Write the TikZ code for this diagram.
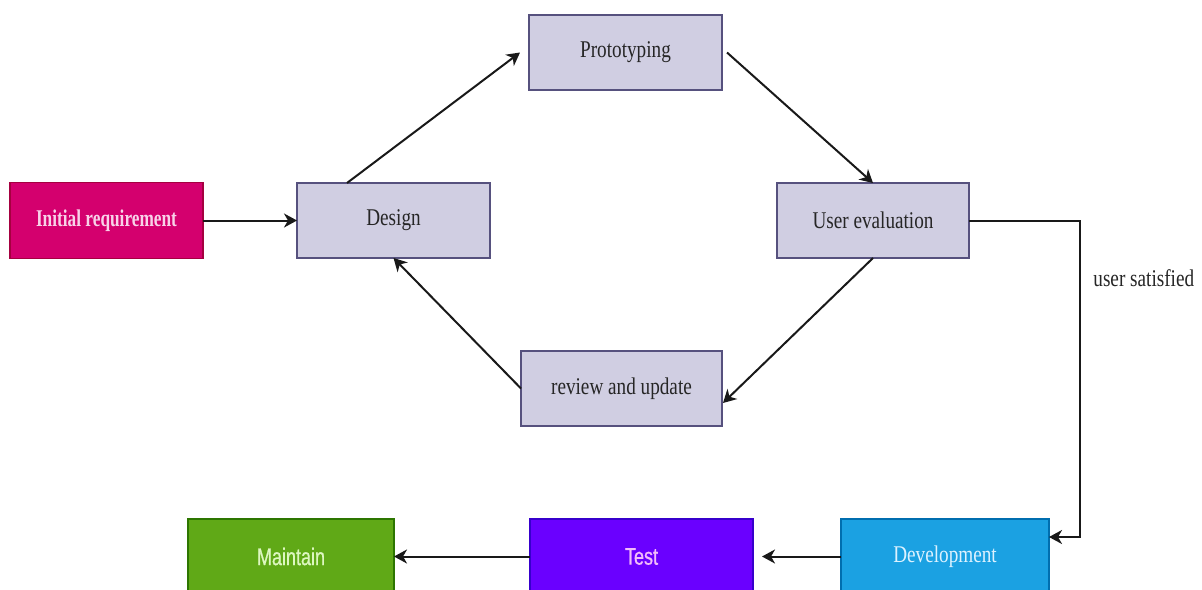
\documentclass[tikz,border=0pt]{standalone}
\usepackage{fontspec}
\setmainfont{Liberation Serif}[FakeStretch=0.8]
\newfontfamily\initfont{Liberation Serif}[FakeStretch=0.72]
\newfontfamily\narrowsans{Liberation Sans}[FakeStretch=0.75,FakeBold=0.8]
\usetikzlibrary{arrows.meta,calc}
\definecolor{lav}{HTML}{D0CEE2}
\definecolor{lavline}{HTML}{56517E}
\definecolor{magfill}{HTML}{D4006E}
\definecolor{magline}{HTML}{A50040}
\definecolor{magtext}{HTML}{F8D2E8}
\definecolor{devfill}{HTML}{1BA1E2}
\definecolor{devline}{HTML}{006EAF}
\definecolor{devtext}{HTML}{DDF2FF}
\definecolor{testfill}{HTML}{6A00FF}
\definecolor{testline}{HTML}{3700CC}
\definecolor{testtext}{HTML}{F2BCFA}
\definecolor{mntfill}{HTML}{60A917}
\definecolor{mntline}{HTML}{2D7600}
\definecolor{mnttext}{HTML}{DDF7C0}
\tikzset{
  box/.style={draw, line width=0.8pt, inner sep=0pt, outer sep=0pt,
    minimum height=37.5pt, font=\fontsize{12}{14}\selectfont},
  lavbox/.style={box, fill=lav, draw=lavline, text=black!85},
  conn/.style={line width=1pt, draw=black!90, -{Stealth[length=6.5pt,width=7pt,inset=2pt]}},
}
\begin{document}
\begin{tikzpicture}[x=0.5pt,y=-0.5pt]
\clip (0,0) rectangle (1202,589);
\fill[white] (0,0) rectangle (1202,589);
\node[box, fill=magfill, draw=magline, text=magtext, minimum width=96.5pt, minimum height=38pt, font=\fontsize{12}{14}\selectfont\initfont\bfseries] (init) at (106.5,220.5) {Initial requirement};
\node[lavbox, minimum width=96.5pt] (design) at (393.5,220.5) {Design};
\node[lavbox, minimum width=96.5pt] (proto) at (625.5,52.5) {Prototyping};
\node[lavbox, minimum width=96pt] (ueval) at (873,220.5) {User evaluation};
\node[lavbox, minimum width=100.5pt] (review) at (621.5,388.5) {review and update};
\node[box, fill=devfill, draw=devline, text=devtext, minimum width=104pt] (dev) at (945,556.5) {Development};
\node[box, fill=testfill, draw=testline, text=testtext, minimum width=111.5pt, font=\fontsize{12}{14}\selectfont\narrowsans] (test) at (641.5,556.5) {Test};
\node[box, fill=mntfill, draw=mntline, text=mnttext, minimum width=103pt, font=\fontsize{12}{14}\selectfont\narrowsans] (maintain) at (291,556.5) {Maintain};
\node[anchor=west, inner sep=0pt, font=\fontsize{12}{14}\selectfont, text=black!85] (lbl) at (1093,278) {user satisfied};

\coordinate (dtop) at ($(design.north west)+(50,0)$);
\coordinate (pin) at ($(proto.west)+(-9,0)$);
\coordinate (pout) at ($(proto.east)+(5,0)$);
\coordinate (rin) at ($(review.east)+(1,14.5)$);
\coordinate (devin) at ($(dev.north east)+(0,18)$);
\coordinate (tin) at ($(test.east)+(9,0)$);

\draw[conn] (init.east) -- (design.west);
\draw[conn] (dtop) -- (pin);
\draw[conn] (pout) -- (ueval.north);
\draw[conn] (ueval.south) -- (rin);
\draw[conn] (review.west) -- (design.south);
\draw[conn] (ueval.east) -- ++(111,0) |- (devin);
\draw[conn] (dev.west) -- (tin);
\draw[conn] (test.west) -- (maintain.east);
\end{tikzpicture}
\end{document}
